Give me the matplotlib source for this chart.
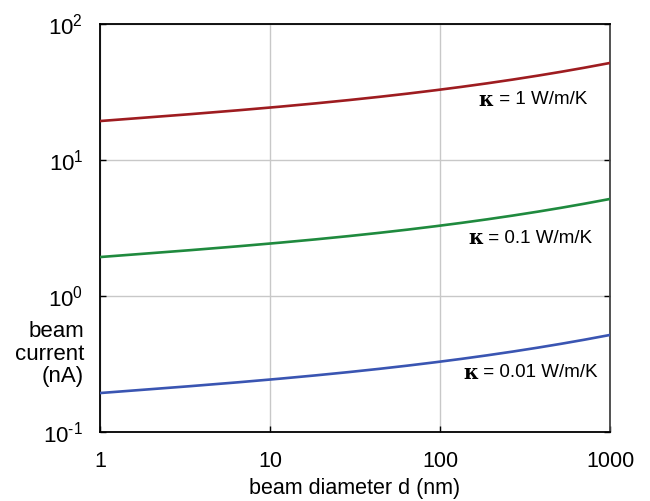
import matplotlib
matplotlib.use("Agg")
import matplotlib.pyplot as plt
import numpy as np

plt.rcParams['font.family'] = ['Liberation Sans', 'DejaVu Sans']
plt.rcParams['mathtext.fontset'] = 'custom'
plt.rcParams['mathtext.rm'] = 'Liberation Sans'
plt.rcParams['mathtext.it'] = 'Liberation Sans:italic'
plt.rcParams['mathtext.bf'] = 'Liberation Sans:bold'

# data
diameter_nm = [1, 3.16, 10, 31.6, 100, 316, 1000]
current_k1 = [19.4, 21.4, 24.4, 27.9, 33.1, 39.9, 51.9]
current_k01 = [1.94, 2.14, 2.44, 2.79, 3.31, 3.99, 5.19]
current_k001 = [0.194, 0.214, 0.244, 0.279, 0.331, 0.399, 0.519]
labels = ["1 W/m/K", "0.1 W/m/K", "0.01 W/m/K"]
colors = ["#9E1C20", "#1F8A3E", "#3A55B2"]
x_ticks = [1, 10, 100, 1000]
x_ticklabels = ["1", "10", "100", "1000"]
y_ticks = [0.1, 1, 10, 100]
y_ticklabels = [r"$\mathregular{10^{\text{-}1}}$", r"$\mathregular{10^{0}}$",
                r"$\mathregular{10^{1}}$", r"$\mathregular{10^{2}}$"]

fig = plt.figure(figsize=(6.5, 5.01), dpi=100)
ax = fig.add_axes([100/650, 1-432/501, 510/650, 408/501])

for ys, c in zip([current_k1, current_k01, current_k001], colors):
    lx = np.log10(diameter_nm)
    ly = np.log10(ys)
    coef = np.polyfit(lx, ly, 3)
    xs = np.logspace(0, 3, 200)
    ax.plot(xs, 10**np.polyval(coef, np.log10(xs)), color=c, lw=1.9, zorder=3)

ax.set_xscale('log')
ax.set_yscale('log')
ax.set_xlim(1, 1000)
ax.set_ylim(0.1, 100)
ax.set_xticks(x_ticks)
ax.set_xticklabels(x_ticklabels)
ax.set_yticks(y_ticks)
ax.set_yticklabels(y_ticklabels)
ax.minorticks_off()
ax.grid(True, which='major', color='#C8C8C8', lw=1.0)
ax.tick_params(axis='both', direction='in', length=4, width=1, right=True, top=False)
ax.tick_params(axis='y', labelsize=16, pad=12)
ax.tick_params(axis='x', labelsize=15.5, pad=14)
for s in ax.spines.values():
    s.set_linewidth(1.3)
    s.set_color('black')
ax.spines['right'].set_color('#444444')

ax.set_xlabel("beam diameter d (nm)", fontsize=15.5, labelpad=4)
fig.text(84/650, 1-354/501, "beam\ncurrent\n(nA)", ha='right', va='center',
         fontsize=16, linespacing=1.1)

fig.canvas.draw()
renderer = fig.canvas.get_renderer()
pos = [(0.955, 0.814), (0.965, 0.475), (0.976, 0.145)]
for lab, (px, py) in zip(labels, pos):
    t = ax.text(px, py, " = " + lab, transform=ax.transAxes, ha='right', va='center',
                fontsize=13.5)
    bb = t.get_window_extent(renderer)
    xl = ax.transAxes.inverted().transform((bb.x0, bb.y0))[0]
    ax.text(xl, py, "κ", transform=ax.transAxes, ha='right', va='center',
            fontsize=14.5, fontweight='bold', family=['DejaVu Serif', 'DejaVu Sans'])

fig.savefig("out.png", dpi=100)
